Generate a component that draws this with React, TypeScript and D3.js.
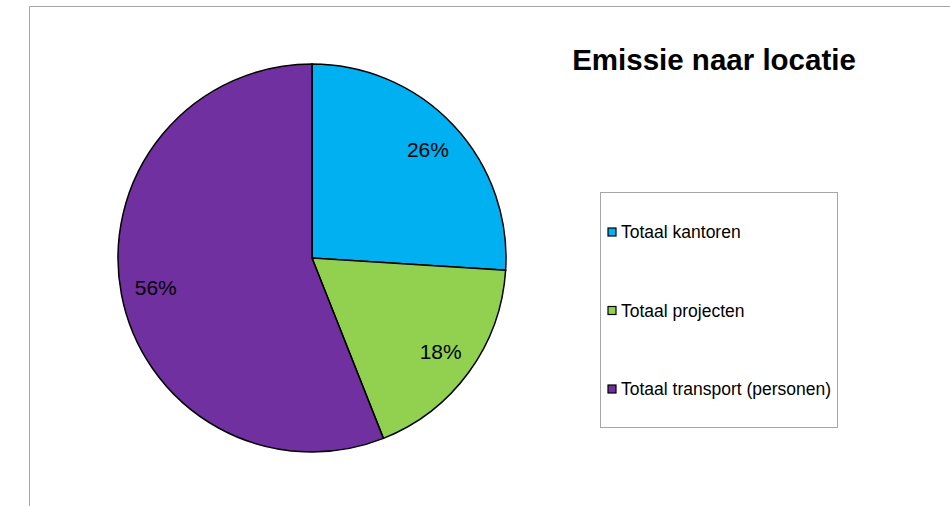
import React from "react";
import * as d3 from "d3";

const categories = ["Totaal kantoren", "Totaal projecten", "Totaal transport (personen)"];
const values = [26, 18, 56];
const labels = ["26%", "18%", "56%"];
const colors = ["#00B0F0", "#92D050", "#7030A0"];
const title = "Emissie naar locatie";

export default function App() {
  const W = 950, H = 506;
  const cx = 312, cy = 258, r = 194;
  const pie = d3.pie<number>().sort(null).value(d => d)(values);
  const arc = d3.arc<d3.PieArcDatum<number>>().innerRadius(0).outerRadius(r);
  const labelArc = d3.arc<d3.PieArcDatum<number>>().innerRadius(r * 0.82).outerRadius(r * 0.82);
  const legendY = d3.scalePoint<string>().domain(categories).range([232, 389]);
  const font = "Liberation Sans, Arial, sans-serif";
  return (
    <svg width={W} height={H} style={{ position: "absolute", left: 0, top: 0 }}>
      <rect x={0} y={0} width={W} height={H} fill="#fff" />
      <line x1={29.5} y1={6.5} x2={W} y2={6.5} stroke="#a6a6a6" strokeWidth={1} />
      <line x1={29.5} y1={6.5} x2={29.5} y2={H} stroke="#a6a6a6" strokeWidth={1} />
      <text x={714} y={70} textAnchor="middle" fontFamily={font} fontWeight="bold" fontSize={29.5}>{title}</text>
      <g transform={`translate(${cx},${cy})`}>
        {pie.map((p, i) => (
          <path key={i} d={arc(p) || ""} fill={colors[i]} stroke="#000" strokeWidth={1.5} />
        ))}
        {pie.map((p, i) => {
          const [x, y] = labelArc.centroid(p);
          return (
            <text key={i} x={x} y={y} textAnchor="middle" dominantBaseline="central" fontFamily={font} fontSize={21}>{labels[i]}</text>
          );
        })}
      </g>
      <rect x={600.5} y={192.5} width={237} height={235} fill="#fff" stroke="#a6a6a6" />
      {categories.map((c, i) => (
        <g key={c}>
          <rect x={608} y={legendY(c)! - 4} width={8} height={8} fill={colors[i]} stroke="#000" strokeWidth={1.2} />
          <text x={621} y={legendY(c)!} dominantBaseline="central" fontFamily={font} fontSize={17.5}>{c}</text>
        </g>
      ))}
    </svg>
  );
}
